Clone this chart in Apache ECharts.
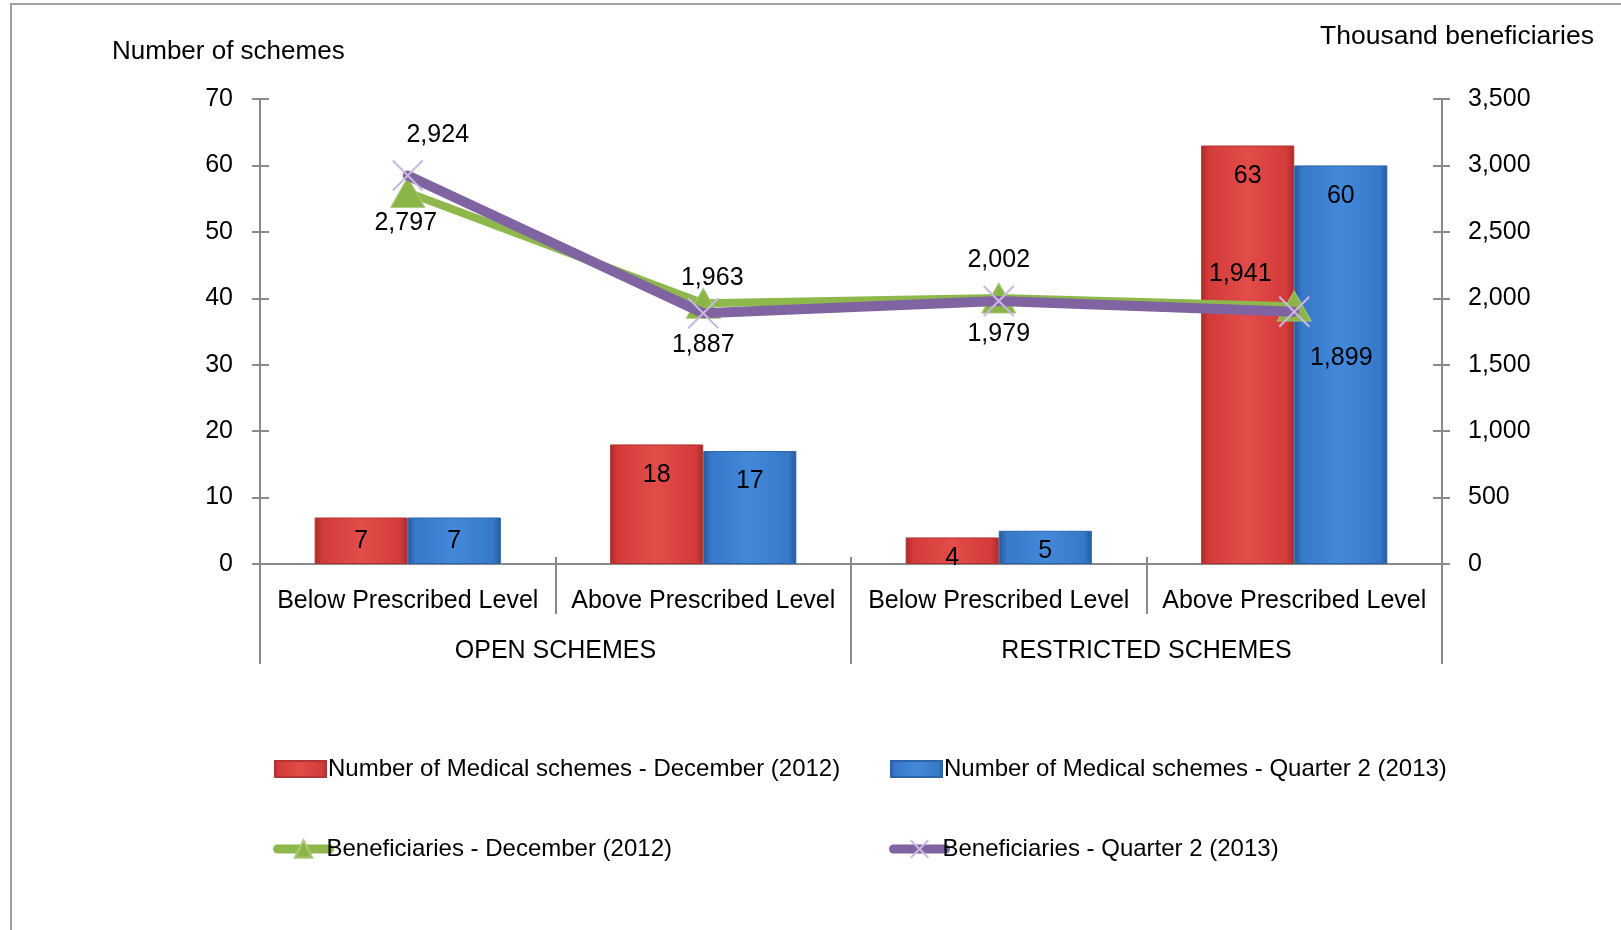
<!DOCTYPE html>
<html>
<head>
<meta charset="utf-8">
<script src="https://cdn.jsdelivr.net/npm/echarts@6/dist/echarts.min.js"></script>
<style>
  html, body { margin: 0; padding: 0; background: #fff; }
  #chart { width: 1621px; height: 930px; }
</style>
</head>
<body>
<div id="chart"></div>
<script>
// Medical schemes: counts (left axis) and beneficiaries in thousands (right axis)
const levels = ['Below Prescribed Level', 'Above Prescribed Level', 'Below Prescribed Level', 'Above Prescribed Level'];
const groups = ['OPEN SCHEMES', 'RESTRICTED SCHEMES'];
const schemesDec2012 = [7, 18, 4, 63];
const schemesQ22013 = [7, 17, 5, 60];
const beneficiariesDec2012 = [2797, 1963, 2002, 1941];
const beneficiariesQ22013 = [2924, 1887, 1979, 1899];
const seriesNames = [
  'Number of Medical schemes - December (2012)',
  'Number of Medical schemes - Quarter 2 (2013)',
  'Beneficiaries - December (2012)',
  'Beneficiaries - Quarter 2 (2013)'
];

// label nudges for the line values, so the two series don't collide
const decLabelShift = [[-2, 31], [9, -25], [0, -38], [-54, -32]];
const q2LabelShift = [[30, -40], [0, 32], [0, 33], [47, 46]];
// gap between bar top and its value label (taller bars sit the label lower)
const barLabelGap = [11, 18, 8, 18];

const FONT = '"Liberation Sans", Arial, sans-serif';
const FS = 25;
const AXIS_GREY = '#8a8a8a';
const fmt = v => v.toLocaleString('en-US');

function barGradient(dark, mid, light) {
  return new echarts.graphic.LinearGradient(0, 0, 1, 0, [
    { offset: 0, color: dark },
    { offset: 0.08, color: mid },
    { offset: 0.5, color: light },
    { offset: 0.92, color: mid },
    { offset: 1, color: dark }
  ]);
}

function lineData(values, shifts) {
  return values.map((v, i) => ({ value: v, label: { offset: shifts[i] } }));
}

function barData(values) {
  return values.map((v, i) => ({ value: v, label: { distance: barLabelGap[i] } }));
}

const crossMark = 'path://M0,0 L10,10 M10,0 L0,10 M0,0 L10,10';

const chart = echarts.init(document.getElementById('chart'), null, { renderer: 'canvas' });

const barLegendText = { fontFamily: FONT, fontSize: 24, color: '#000', padding: [0, 0, 0, -3] };
const lineLegendText = { fontFamily: FONT, fontSize: 24, color: '#000', padding: [0, 0, 0, -8] };

chart.setOption({
  backgroundColor: '#ffffff',
  animation: false,
  textStyle: { fontFamily: FONT, color: '#000' },
  graphic: [
    {
      type: 'rect',
      shape: { x: 11, y: 4, width: 2000, height: 2000 },
      style: { fill: 'none', stroke: '#a0a0a0', lineWidth: 2 },
      silent: true
    },
    {
      type: 'text', left: 112, top: 39,
      style: { text: 'Number of schemes', font: `26px ${FONT}`, fill: '#000' }
    },
    {
      type: 'text', right: 27, top: 23,
      style: { text: 'Thousand beneficiaries', font: `26.5px ${FONT}`, fill: '#000' }
    }
  ],
  grid: { left: 260, right: 179, top: 99, bottom: 366 },
  legend: [
    { data: [seriesNames[0]], left: 269, top: 752, icon: 'rect', itemWidth: 51, itemHeight: 16, textStyle: barLegendText },
    { data: [seriesNames[1]], left: 885, top: 752, icon: 'rect', itemWidth: 51, itemHeight: 16, textStyle: barLegendText },
    { data: [seriesNames[2]], left: 268, top: 832, itemWidth: 52, itemHeight: 22, textStyle: lineLegendText,
      lineStyle: { width: 9, cap: 'round' } },
    { data: [seriesNames[3]], left: 884, top: 832, itemWidth: 52, itemHeight: 22, textStyle: lineLegendText,
      lineStyle: { width: 9, cap: 'round' } }
  ].map(l => Object.assign(l, { itemGap: 0 })),
  xAxis: [
    {
      type: 'category', data: levels, position: 'bottom',
      axisLine: { lineStyle: { color: AXIS_GREY, width: 2 } },
      axisTick: { show: true, length: 50, interval: 0, lineStyle: { color: AXIS_GREY, width: 2 } },
      axisLabel: { interval: 0, margin: 25, fontFamily: FONT, fontSize: FS, color: '#000' }
    },
    {
      type: 'category', data: groups, position: 'bottom',
      axisLine: { show: false },
      axisTick: { show: true, length: 100, interval: 0, lineStyle: { color: AXIS_GREY, width: 2 } },
      axisLabel: { interval: 0, margin: 75, fontFamily: FONT, fontSize: FS, color: '#000' }
    },
    {
      type: 'category', data: levels, position: 'bottom',
      axisLine: { show: false },
      axisTick: { show: true, inside: true, length: 7, interval: 0, lineStyle: { color: AXIS_GREY, width: 2 } },
      axisLabel: { show: false }
    }
  ],
  yAxis: [
    {
      type: 'value', position: 'left', min: 0, max: 70, interval: 10,
      axisLine: { show: true, lineStyle: { color: AXIS_GREY, width: 2 } },
      axisTick: { show: true, length: 8, lineStyle: { color: AXIS_GREY, width: 2 } },
      splitLine: { show: false },
      axisLabel: { margin: 27, fontFamily: FONT, fontSize: FS, color: '#000' }
    },
    {
      type: 'value', position: 'right', min: 0, max: 3500, interval: 500,
      axisLine: { show: true, lineStyle: { color: AXIS_GREY, width: 2 } },
      axisTick: { show: true, length: 8, lineStyle: { color: AXIS_GREY, width: 2 } },
      splitLine: { show: false },
      axisLabel: { margin: 26, fontFamily: FONT, fontSize: FS, color: '#000', formatter: fmt }
    },
    {
      type: 'value', position: 'left', min: 0, max: 70, interval: 10,
      axisLine: { show: false },
      axisTick: { show: true, inside: true, length: 9, lineStyle: { color: AXIS_GREY, width: 2 } },
      axisLabel: { show: false }, splitLine: { show: false }
    },
    {
      type: 'value', position: 'right', min: 0, max: 3500, interval: 500,
      axisLine: { show: false },
      axisTick: { show: true, inside: true, length: 9, lineStyle: { color: AXIS_GREY, width: 2 } },
      axisLabel: { show: false }, splitLine: { show: false }
    }
  ],
  series: [
    {
      name: seriesNames[0], type: 'bar', xAxisIndex: 0, yAxisIndex: 0,
      data: barData(schemesDec2012), barGap: '0%', barCategoryGap: '37%',
      itemStyle: {
        color: barGradient('#a72a28', '#d23b39', '#e24c49'),
        borderColor: '#b23331', borderWidth: 1
      },
      label: { show: true, position: 'insideTop', fontFamily: FONT, fontSize: FS, color: '#000' },
      z: 2
    },
    {
      name: seriesNames[1], type: 'bar', xAxisIndex: 0, yAxisIndex: 0,
      data: barData(schemesQ22013),
      itemStyle: {
        color: barGradient('#24589a', '#3778c8', '#4389da'),
        borderColor: '#2d64a8', borderWidth: 1
      },
      label: { show: true, position: 'insideTop', fontFamily: FONT, fontSize: FS, color: '#000' },
      z: 2
    },
    {
      name: seriesNames[2], type: 'line', xAxisIndex: 0, yAxisIndex: 1,
      data: lineData(beneficiariesDec2012, decLabelShift),
      symbol: 'triangle', symbolSize: [34, 30],
      lineStyle: { color: '#8fb84c', width: 8 },
      itemStyle: { color: '#8cb547', borderColor: '#a9c97a', borderWidth: 1 },
      label: { show: true, position: 'inside', fontFamily: FONT, fontSize: FS, color: '#000', formatter: p => fmt(p.value) },
      z: 5
    },
    {
      name: seriesNames[3], type: 'line', xAxisIndex: 0, yAxisIndex: 1,
      data: lineData(beneficiariesQ22013, q2LabelShift),
      symbol: crossMark, symbolSize: 30,
      lineStyle: { color: '#8063a1', width: 10, cap: 'round' },
      itemStyle: { color: 'rgba(0,0,0,0)', borderColor: '#c9b8e0', borderWidth: 2 },
      label: { show: true, position: 'inside', fontFamily: FONT, fontSize: FS, color: '#000', formatter: p => fmt(p.value) },
      z: 6
    }
  ]
});
</script>
</body>
</html>
